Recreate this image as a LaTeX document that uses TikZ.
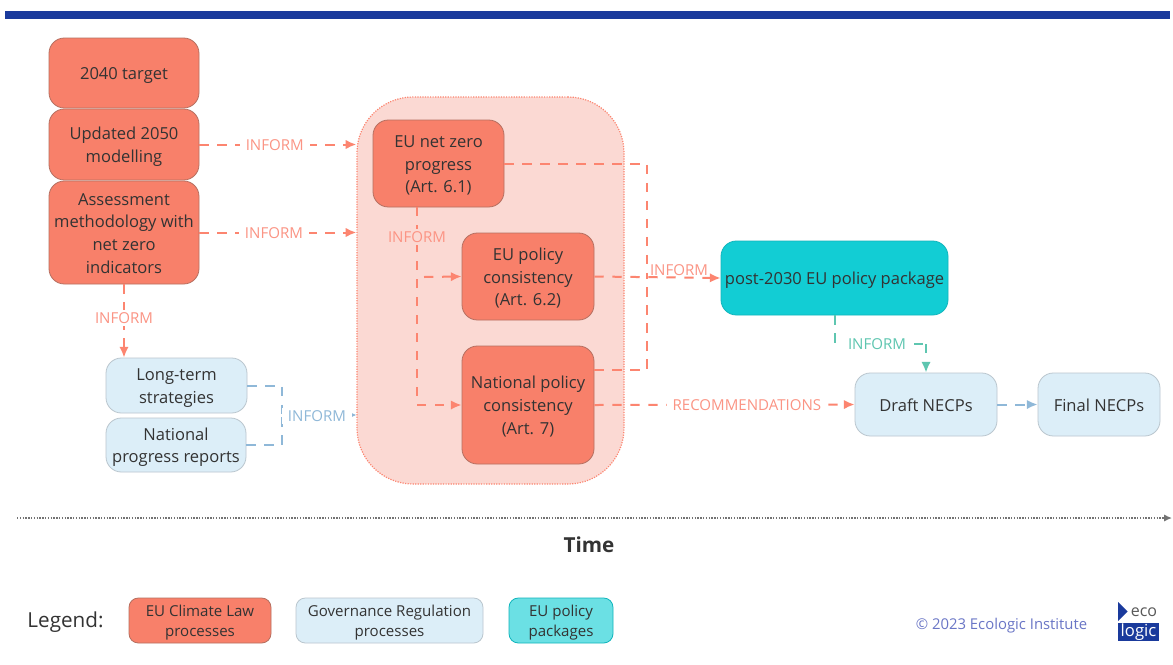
\documentclass[tikz,border=0pt]{standalone}
\usepackage{fontspec}
\setmainfont{Open Sans}
\usetikzlibrary{arrows.meta,calc}
\definecolor{redfill}{HTML}{F8806A}
\definecolor{redline}{HTML}{B56F60}
\definecolor{redarrow}{HTML}{FC8570}
\definecolor{redlabel}{HTML}{FB9484}
\definecolor{pinkfill}{HTML}{FBD9D3}
\definecolor{bluefill}{HTML}{DCEEF8}
\definecolor{blueline}{HTML}{BAC6CE}
\definecolor{bluearrow}{HTML}{8FB8D8}
\definecolor{tealfill}{HTML}{12CDD4}
\definecolor{tealline}{HTML}{10B5BC}
\definecolor{tealpale}{HTML}{6BE0E4}
\definecolor{greenarrow}{HTML}{5EC6B0}
\definecolor{navy}{HTML}{1A3A9C}
\definecolor{copy}{HTML}{6A76C6}
\definecolor{ink}{HTML}{333333}
\tikzset{
  x=0.75pt,y=-0.75pt,
  procbox/.style={rounded corners=11.5pt,draw,line width=0.6pt,align=center,inner sep=0pt,text=ink,font=\fontsize{12.4}{17}\selectfont},
  climate/.style={procbox,fill=redfill,draw=redline},
  gov/.style={procbox,fill=bluefill,draw=blueline},
  pack/.style={procbox,fill=tealfill,draw=tealline},
  legendbox/.style={rounded corners=7pt,font=\fontsize{11.3}{15}\selectfont},
  link/.style={line width=1.5pt,dash pattern=on 7pt off 6.5pt},
  redlink/.style={link,draw=redarrow},
  bluelink/.style={link,draw=bluearrow},
  greenlink/.style={link,draw=greenarrow},
  tip/.style={-{Latex[length=8pt,width=7pt]}},
  smalltip/.style={-{Latex[length=4.5pt,width=4.5pt]}},
  lab/.style={font=\fontsize{11.3}{13}\selectfont,inner ysep=2pt,inner xsep=4.5pt},
  redlab/.style={lab,text=redlabel,fill=white},
  bluelab/.style={lab,text=bluearrow,fill=white},
  greenlab/.style={lab,text=greenarrow,fill=white,inner xsep=6pt},
}
\newcommand{\bx}[7]{\node[#2,minimum width={(#5-#3)*0.75pt},minimum height={(#6-#4)*0.75pt}] (#1) at ({(#3+#5)/2},{(#4+#6)/2}) {\raisebox{-1.5pt}[\height][\depth]{\begin{tabular}{@{}c@{}}#7\end{tabular}}};}
\begin{document}
\begin{tikzpicture}
\useasboundingbox (0,0) rectangle (1173,664);
\fill[white] (0,0) rectangle (1173,664);
\node[fill=navy,minimum width={1165*0.75pt},minimum height={8*0.75pt},inner sep=0pt] (topbar) at (587.5,15) {};
% group
\node[rounded corners=42pt,fill=pinkfill,draw=redarrow,densely dotted,line width=0.9pt,minimum width={267*0.75pt},minimum height={387*0.75pt},inner sep=0pt] (grp) at (490.5,290.5) {};
% left stack
\bx{target}{climate}{49}{38}{199}{108}{2040 target}
\bx{upd}{climate}{49}{109}{199}{180}{Updated 2050\\modelling}
\bx{assess}{climate}{49}{181}{199}{284}{Assessment\\methodology with\\net zero\\indicators}
\bx{lts}{gov}{106}{358}{247}{413}{Long-term\\strategies}
\bx{npr}{gov}{106}{418}{246}{472}{National\\progress reports}
% centre
\bx{netzero}{climate}{373}{120}{504}{207}{EU net zero\\progress\\(Art. 6.1)}
\bx{cons}{climate}{462}{233}{594}{320}{EU policy\\consistency\\(Art. 6.2)}
\bx{natcons}{climate}{462}{346}{594}{464}{National policy\\consistency\\(Art. 7)}
% right
\bx{post}{pack}{721}{241}{948}{315}{post-2030 EU policy package}
\bx{draft}{gov}{855}{373}{997}{436}{Draft NECPs}
\bx{final}{gov}{1038}{373}{1160}{436}{Final NECPs}
% junctions
\coordinate (jred) at (647,278);
\coordinate (jdown) at (417,207);
\coordinate (jcons) at (424,277);
\coordinate (jnat) at (417,405);
\coordinate (jblue) at (282,415);
\coordinate (jgreen) at (926,344);
% connectors
\draw[redlink,tip] (upd.east) -- (upd.east -| grp.west) node[redlab,pos=0.48,yshift=-0.4pt] {INFORM};
\draw[redlink,tip] (assess.east) -- (assess.east -| grp.west) node[redlab,pos=0.475,yshift=-0.4pt] {INFORM};
\draw[redlink,tip] (assess.south) -- (assess.south |- lts.north) node[redlab,pos=0.46] {INFORM};
\draw[bluelink] (lts.east) -| (jblue);
\draw[bluelink] (npr.east) -| (jblue);
\draw[bluelink,smalltip] (jblue) -- (jblue -| grp.west) node[bluelab,pos=0.47,yshift=-0.6pt] {INFORM};
\draw[redlink] (jdown) -- (jnat);
\draw[redlink,tip] (jnat) -- (jnat -| natcons.west);
\draw[redlink,tip] (jcons) -- (cons.west);
\node[redlab,fill=pinkfill] (lab1) at (417,237) {INFORM};
\draw[redlink] (netzero.east) -| (jred);
\draw[redlink] ($(natcons.east)+(0,-35)$) -| (jred);
\draw[redlink,tip] (cons.east) -- (post.west);
\node[lab,text=redlabel] (lab2) at (679,270) {INFORM};
\draw[redlink,tip] (natcons.east) -- (draft.west) node[redlab,pos=0.586,yshift=-0.4pt] {RECOMMENDATIONS};
\draw[greenlink] (post.south) |- (jgreen);
\draw[greenlink,tip] (jgreen) -- (draft.north);
\node[greenlab] (lab3) at (877,344) {INFORM};
\draw[bluelink,tip] (draft.east) -- (final.west);
% time
\coordinate (tstart) at (17,518);
\coordinate (tend) at (1172,518);
\draw[densely dotted,line width=1.1pt,draw=black!55,-{Latex[length=6pt,width=5.5pt]}] (tstart) -- (tend);
\node[font=\fontsize{15.5}{18}\selectfont\bfseries,text=ink] (time) at (589,545) {Time};
% legend
\node[font=\fontsize{15.5}{18}\selectfont,text=ink] (legend) at (65.5,622.5) {Legend:};
\bx{l1}{climate,legendbox}{129}{598}{271}{643}{EU Climate Law\\processes}
\bx{l2}{gov,legendbox}{296}{598}{483}{643}{Governance Regulation\\processes}
\bx{l3}{pack,legendbox,fill=tealpale}{509}{598}{613}{643}{EU policy\\packages}
\node[font=\fontsize{11.15}{13}\selectfont,text=copy] (copyr) at (1001.5,625.5) {© 2023 Ecologic Institute};
% logo
\fill[navy] (1118,602) -- (1127.5,611.5) -- (1118,621) -- cycle;
\node[font=\fontsize{12}{13}\selectfont,text=black!65,inner sep=0pt] (eco) at (1144,612) {eco};
\node[fill=navy,minimum width={41*0.75pt},minimum height={18*0.75pt},inner sep=0pt,text=white,font=\fontsize{12.5}{13}\selectfont] (logic) at (1138.5,632) {logic};
\end{tikzpicture}
\end{document}
